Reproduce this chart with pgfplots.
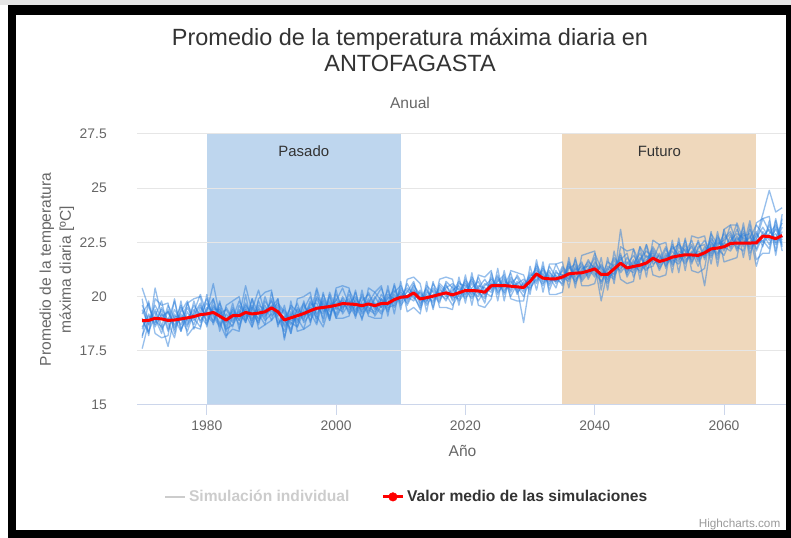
\documentclass[border=0pt]{standalone}
\usepackage{pgfplots}
\pgfplotsset{compat=1.18}
\usepackage{pgfplotstable}
\usepackage{fontspec}
\setmainfont{Liberation Sans}

\definecolor{pasado}{HTML}{BED6EE}
\definecolor{futuro}{HTML}{EFD8BC}
\definecolor{sim}{HTML}{2F80DA}
\definecolor{titulo}{HTML}{333333}
\definecolor{gris}{HTML}{666666}
\definecolor{rejilla}{HTML}{E6E6E6}
\definecolor{ejex}{HTML}{CCD6EB}
\definecolor{oculto}{HTML}{CCCCCC}
\definecolor{credito}{HTML}{999999}

% simulaciones individuales (12 modelos)
\pgfplotstableread{
year a b c d e f g h i j k l
1970 18.6 19.4 18.2 20.4 18.9 19.2 17.6 19.0 18.5 19.6 19.9 18.1
1971 19.1 18.7 18.9 19.5 18.4 19.7 18.8 18.3 19.2 18.9 18.2 19.8
1972 18.8 19.3 19.6 18.9 19.1 18.6 19.4 20.4 18.7 19.0 19.9 18.3
1973 19.4 18.5 19.0 18.6 19.8 19.2 18.7 19.1 19.5 18.3 19.6 18.1
1974 18.4 19.0 19.3 19.6 18.5 18.8 17.7 19.3 18.9 19.4 19.7 18.2
1975 19.2 18.9 18.5 19.0 19.4 18.1 19.1 18.7 19.8 18.6 18.3 19.9
1976 18.7 19.6 19.1 18.4 18.9 19.5 19.0 19.3 18.5 19.2 19.8 18.4
1977 19.5 18.8 18.6 19.3 19.7 18.9 18.4 19.8 19.0 18.7 18.2 19.7
1978 18.9 19.2 19.8 18.7 19.0 19.6 19.3 18.5 19.4 19.1 18.6 19.9
1979 19.3 19.7 18.8 19.5 18.6 19.1 20.1 19.2 18.9 19.6 18.5 20.0
1980 19.9 18.9 19.4 19.1 19.5 18.7 19.2 19.7 19.3 18.8 20.1 18.6
1981 19.1 19.5 19.9 18.8 19.3 19.6 18.9 19.2 20.6 19.4 18.7 19.9
1982 18.6 19.3 19.0 19.7 18.8 19.2 19.5 18.7 19.1 19.4 19.8 18.4
1983 19.2 18.4 18.9 19.0 18.1 19.4 18.6 19.5 18.8 18.5 18.2 19.6
1984 18.8 19.5 19.3 18.6 19.2 18.9 19.7 19.0 19.4 18.7 18.5 19.8
1985 19.4 18.9 18.7 19.6 19.1 19.3 18.5 19.8 18.9 19.2 18.4 20.0
1986 19.0 19.7 19.4 19.1 20.5 18.8 19.5 19.2 19.6 18.9 20.1 18.8
1987 19.6 19.0 18.8 19.5 19.3 19.9 18.9 18.6 19.2 19.4 18.6 19.9
1988 18.9 19.4 19.8 18.7 19.0 19.2 19.6 19.5 18.8 20.3 19.9 18.5
1989 19.3 18.9 19.1 19.8 19.6 18.7 19.4 19.0 20.0 19.2 20.2 18.7
1990 19.8 19.2 19.6 19.3 18.9 20.2 19.5 19.9 19.1 19.4 20.3 18.9
1991 19.0 19.6 18.8 19.5 19.3 19.1 19.9 18.7 19.4 19.7 18.6 19.9
1992 18.4 19.2 19.0 18.6 18.9 19.4 18.1 19.1 18.7 19.3 19.6 18.0
1993 19.3 18.7 19.5 19.1 18.5 18.9 19.2 18.3 19.6 18.8 18.3 19.8
1994 18.9 19.4 18.6 19.7 19.2 19.0 18.8 19.5 19.3 18.6 19.9 18.4
1995 19.6 19.0 19.3 18.8 19.7 18.5 19.4 19.1 18.9 19.8 20.0 18.5
1996 19.1 19.8 19.5 19.2 18.9 19.6 20.0 19.3 19.7 18.8 20.2 18.7
1997 19.9 19.2 19.0 20.4 19.4 19.7 19.1 18.7 19.5 20.0 18.8 20.3
1998 19.3 19.7 20.1 19.4 19.8 19.0 18.6 19.9 19.2 19.6 20.2 18.8
1999 19.7 19.1 19.4 19.8 19.0 20.2 19.6 19.3 20.0 18.9 18.9 20.1
2000 19.2 19.9 19.7 19.0 20.3 19.4 19.8 19.5 19.1 20.1 20.4 19.0
2001 20.0 19.4 19.8 19.6 19.2 19.9 20.4 19.3 19.7 19.5 20.5 19.0
2002 19.5 20.1 19.3 19.9 19.7 19.2 19.6 20.3 19.4 19.8 20.4 19.1
2003 19.8 19.4 19.9 19.2 20.0 19.6 19.1 19.7 20.2 19.3 19.0 20.3
2004 19.3 19.7 19.5 20.1 19.4 19.0 19.8 19.6 19.2 20.0 20.3 18.9
2005 19.9 19.3 20.2 19.5 19.8 19.7 20.1 19.2 19.6 19.4 19.1 20.4
2006 19.4 20.0 19.6 19.3 19.1 20.2 19.5 19.9 19.7 19.2 19.0 20.2
2007 20.1 19.5 19.3 19.9 19.6 19.8 19.2 20.4 19.5 19.9 19.0 20.5
2008 19.6 19.9 20.0 19.4 20.3 19.3 19.7 19.5 20.1 19.6 20.5 19.1
2009 19.8 20.3 19.7 20.1 19.5 20.0 20.5 19.6 19.9 20.2 19.2 20.6
2010 20.2 19.7 20.4 19.8 20.1 19.9 19.6 20.3 20.0 20.5 20.7 19.4
2011 19.8 20.3 19.9 20.6 19.7 20.2 20.0 19.6 20.4 19.9 19.3 20.8
2012 20.4 19.9 20.6 20.0 20.3 20.7 19.8 20.2 20.1 20.5 19.5 20.9
2013 19.6 20.2 19.8 19.5 20.0 19.7 20.3 19.9 19.4 20.1 19.2 20.6
2014 20.3 19.8 20.1 20.5 19.7 20.0 19.6 20.4 20.2 19.8 20.7 19.3
2015 19.9 20.4 19.7 20.2 20.6 19.8 20.1 19.5 20.0 20.3 19.4 20.7
2016 20.4 20.0 20.5 19.8 20.1 20.3 19.7 20.6 20.2 19.9 20.8 19.5
2017 20.0 20.6 20.2 20.4 19.9 20.1 20.7 20.3 19.8 20.5 20.9 19.5
2018 20.3 19.8 20.0 20.6 20.2 19.6 20.4 19.9 20.5 20.1 20.8 19.4
2019 20.5 20.2 19.9 20.3 20.7 20.1 19.8 20.6 20.0 20.4 19.6 20.9
2020 20.1 20.7 20.4 19.9 20.3 20.8 20.2 20.5 20.6 20.0 21.0 19.7
2021 20.6 20.0 20.8 20.4 19.9 20.3 20.7 20.1 20.2 20.9 19.6 21.1
2022 20.2 20.5 20.1 20.7 20.4 19.8 20.3 20.9 20.0 20.4 21.0 19.6
2023 19.9 20.4 20.6 20.0 20.8 20.3 19.7 20.2 20.5 20.1 20.9 19.5
2024 20.7 20.2 20.4 20.9 20.3 20.6 21.1 20.0 20.8 20.4 21.2 19.9
2025 20.3 20.9 20.6 20.2 20.7 20.4 20.1 20.8 20.5 21.0 19.8 21.3
2026 20.8 20.4 20.2 20.6 21.0 20.5 20.7 20.3 20.9 20.1 21.2 19.8
2027 20.4 20.7 20.9 20.3 20.2 21.1 20.5 20.6 20.0 20.8 19.9 21.2
2028 20.6 20.3 20.5 21.0 20.7 20.1 20.4 20.9 20.6 20.2 19.8 21.1
2029 20.2 20.6 20.0 20.5 20.4 20.7 18.8 20.3 20.8 20.5 19.8 21.0
2030 20.9 20.4 20.8 20.6 21.1 20.3 20.7 21.0 20.5 20.9 21.4 20.1
2031 21.3 20.8 21.1 21.5 20.7 21.0 21.2 20.9 21.4 20.6 20.3 21.7
2032 20.6 21.1 20.8 20.9 21.3 20.5 21.0 21.2 20.7 21.4 21.6 20.2
2033 21.0 20.5 21.2 20.7 20.9 21.4 20.6 20.8 21.1 20.3 20.1 21.5
2034 20.7 21.2 20.6 21.0 20.4 20.9 21.5 20.7 20.8 21.1 20.1 21.5
2035 21.2 20.7 21.0 20.5 21.3 20.8 20.9 21.4 20.6 21.0 20.2 21.6
2036 20.8 21.4 21.1 21.3 20.9 21.6 20.7 21.0 21.5 20.8 21.8 20.4
2037 21.3 20.9 20.7 21.5 21.2 20.8 21.4 21.1 20.6 21.7 20.4 21.8
2038 21.0 21.5 21.3 20.8 21.6 21.1 20.9 21.4 21.2 20.7 21.9 20.5
2039 21.5 21.0 21.4 21.2 20.8 21.7 21.3 20.9 21.6 21.1 22.0 20.5
2040 21.1 21.6 21.0 21.8 21.4 21.2 20.9 21.5 21.3 22.0 22.1 20.6
2041 20.7 21.2 21.4 20.6 21.0 20.9 21.5 19.8 21.1 21.3 20.3 21.8
2042 21.3 20.8 20.7 21.4 21.1 21.6 20.9 21.2 20.6 21.0 21.8 20.3
2043 21.0 21.5 21.7 21.2 20.9 21.4 21.1 21.8 21.3 20.8 20.6 22.1
2044 21.8 21.3 21.1 22.0 21.6 21.2 21.9 21.4 21.7 23.1 22.3 20.8
2045 21.1 21.6 21.5 20.9 21.3 21.8 21.0 21.4 22.0 21.2 22.1 20.6
2046 21.6 21.2 21.9 21.5 21.1 21.4 22.2 21.3 20.9 21.7 22.2 20.7
2047 21.3 21.8 21.4 22.0 21.7 21.2 21.5 22.3 21.6 21.1 20.8 22.3
2048 21.9 21.4 21.7 21.3 22.1 21.6 21.2 21.8 22.4 21.5 22.4 20.9
2049 21.6 22.1 21.9 21.4 21.8 22.3 21.7 22.0 21.5 22.2 21.0 22.6
2050 21.9 21.4 21.3 22.0 21.5 21.8 22.4 21.2 21.7 21.6 20.9 22.4
2051 21.5 22.0 21.8 21.4 22.2 21.6 21.3 21.9 22.3 21.7 21.0 22.5
2052 22.1 21.6 22.3 21.9 21.5 21.8 22.4 21.7 21.4 22.2 22.6 21.1
2053 21.7 22.3 21.9 21.6 22.1 22.5 21.8 21.5 22.0 22.4 21.1 22.7
2054 22.2 21.8 21.5 22.4 21.9 21.7 22.6 22.0 21.6 22.1 22.7 21.2
2055 21.8 22.4 22.0 21.6 22.3 21.9 21.5 22.6 22.1 21.7 21.2 22.8
2056 22.1 21.7 22.5 22.2 21.6 22.0 22.3 21.8 21.4 22.6 21.1 22.7
2057 21.9 22.3 21.7 22.6 22.1 20.5 22.4 22.0 22.2 21.8 21.3 22.8
2058 22.4 22.0 22.7 21.9 22.3 22.5 21.8 22.6 22.1 22.9 23.0 21.5
2059 22.0 22.6 22.3 22.8 21.9 22.2 22.5 21.7 22.7 22.4 21.4 23.0
2060 22.5 22.1 22.9 22.3 22.7 21.9 22.4 23.1 22.2 22.6 23.1 21.6
2061 22.3 22.8 22.4 22.1 23.0 22.6 23.3 22.2 22.5 22.9 23.3 21.7
2062 22.7 22.2 23.1 22.6 22.3 22.9 22.4 22.8 23.4 22.1 23.3 21.8
2063 22.4 23.0 22.5 22.9 22.1 22.7 23.2 22.3 22.6 22.8 21.8 23.4
2064 22.8 22.3 22.7 22.2 23.1 22.5 22.0 23.5 22.4 22.9 23.3 21.7
2065 22.2 22.9 23.3 22.6 22.4 23.0 22.7 22.1 22.8 21.4 21.7 23.4
2066 23.0 22.5 22.9 23.6 22.6 22.3 23.2 22.8 23.8 22.4 22.0 23.6
2067 22.6 23.3 22.4 23.0 22.2 23.5 22.7 23.1 24.9 22.9 22.0 23.7
2068 23.1 22.4 23.2 22.7 23.6 22.1 22.9 22.5 23.9 23.3 23.5 21.9
2069 22.5 23.0 22.6 23.4 22.3 23.8 22.4 23.2 24.1 22.7 22.1 23.6
}\sims

% valor medio de las simulaciones
\pgfplotstableread{
year mean
1970 18.89
1971 18.90
1972 19.00
1973 18.97
1974 18.90
1975 18.92
1976 18.97
1977 19.02
1978 19.08
1979 19.17
1980 19.20
1981 19.27
1982 19.10
1983 18.92
1984 19.12
1985 19.12
1986 19.27
1987 19.20
1988 19.24
1989 19.30
1990 19.48
1991 19.30
1992 18.92
1993 19.02
1994 19.12
1995 19.22
1996 19.35
1997 19.46
1998 19.50
1999 19.54
2000 19.60
2001 19.68
2002 19.66
2003 19.64
2004 19.58
2005 19.66
2006 19.58
2007 19.68
2008 19.69
2009 19.86
2010 19.97
2011 20.00
2012 20.17
2013 19.89
2014 19.95
2015 20.02
2016 20.10
2017 20.17
2018 20.08
2019 20.18
2020 20.28
2021 20.28
2022 20.26
2023 20.20
2024 20.50
2025 20.51
2026 20.51
2027 20.48
2028 20.45
2029 20.42
2030 20.70
2031 21.05
2032 20.85
2033 20.82
2034 20.82
2035 20.90
2036 21.05
2037 21.08
2038 21.10
2039 21.18
2040 21.28
2041 21.02
2042 21.02
2043 21.28
2044 21.54
2045 21.32
2046 21.39
2047 21.45
2048 21.55
2049 21.77
2050 21.62
2051 21.70
2052 21.82
2053 21.88
2054 21.93
2055 21.92
2056 21.90
2057 22.02
2058 22.20
2059 22.24
2060 22.30
2061 22.45
2062 22.47
2063 22.47
2064 22.47
2065 22.48
2066 22.79
2067 22.77
2068 22.67
2069 22.82
}\media

\begin{document}
\begin{tikzpicture}[x=0.75pt,y=0.75pt]

\begin{axis}[
    at={(102.75pt,99.75pt)}, anchor=south west,
    width=488.25pt, height=203.25pt, scale only axis,
    set layers,
    xmin=1969.2, xmax=2069.9,
    ymin=15, ymax=27.5,
    xtick={1980,2000,2020,2040,2060},
    ytick={15,17.5,20,22.5,25,27.5},
    axis x line*=bottom, axis y line*=left,
    axis line style={-},
    x axis line style={draw=ejex, line width=0.75pt},
    y axis line style={draw=none},
    ymajorgrids=true,
    grid style={draw=rejilla, line width=0.75pt},
    tick align=outside,
    major tick length=7.5pt,
    xtick style={draw=ejex, line width=0.75pt},
    ytick style={draw=none},
    /pgf/number format/assume math mode=true,
    /pgf/number format/1000 sep={},
    tick label style={text=gris, font=\fontsize{10.4}{12}\selectfont},
    xticklabel style={anchor=center, yshift=-8pt},
    yticklabel style={anchor=east, inner sep=0pt, xshift=-15pt},
    xlabel={Año},
    xlabel style={at={(axis description cs:0.5,-0.170)}, anchor=center,
        text=gris, font=\fontsize{11.7}{14}\selectfont},
    ylabel={Promedio de la temperatura\\máxima diaria [ºC]},
    ylabel style={at={(axis description cs:-0.123,0.5)}, anchor=center,
        align=center, text=gris, font=\fontsize{11.7}{15}\selectfont},
    clip mode=individual,
    legend style={at={(0.415,-0.339)}, anchor=center, draw=none, fill=none,
        font=\bfseries\fontsize{11.7}{14}\selectfont,
        /tikz/every even column/.append style={column sep=22pt}},
    legend columns=2,
    legend cell align=left,
]

% periodos
\addplot[fill=pasado, draw=none, on layer=axis background, forget plot]
    coordinates {(1980,15) (1980,27.5) (2010,27.5) (2010,15)} -- cycle;
\addplot[fill=futuro, draw=none, on layer=axis background, forget plot]
    coordinates {(2035,15) (2035,27.5) (2065,27.5) (2065,15)} -- cycle;

\node[anchor=base, text=titulo, font=\fontsize{11.2}{13}\selectfont]
    at (axis cs:1995,26.48) {Pasado};
\node[anchor=base, text=titulo, font=\fontsize{11.2}{13}\selectfont]
    at (axis cs:2050,26.48) {Futuro};

\pgfplotsinvokeforeach{a,b,c,d,e,f,g,h,i,j,k,l}{
    \addplot[sim, opacity=0.5, line width=1pt, line join=round, forget plot]
        table[x=year, y=#1] {\sims};
}

\addplot[red, line width=2.25pt, line join=round, forget plot]
    table[x=year, y=mean] {\media};

\addlegendimage{legend image code/.code={
    \draw[oculto, line width=1.5pt] (0pt,0pt) -- (15pt,0pt);}}
\addlegendentry{\textcolor{oculto}{Simulación individual}}
\addlegendimage{legend image code/.code={
    \draw[red, line width=2.25pt] (0pt,0pt) -- (15pt,0pt);
    \fill[red] (7.5pt,0pt) circle (3.2pt);}}
\addlegendentry{\textcolor{titulo}{Valor medio de las simulaciones}}
\end{axis}

% titulos
\node[anchor=base, text=titulo, font=\fontsize{17.6}{21}\selectfont]
    at (410,492) {Promedio de la temperatura máxima diaria en};
\node[anchor=base, text=titulo, font=\fontsize{17.6}{21}\selectfont]
    at (410,466) {ANTOFAGASTA};
\node[anchor=base, text=gris, font=\fontsize{11.7}{14}\selectfont]
    at (410,429) {Anual};
\node[anchor=base east, text=credito, font=\fontsize{8.8}{10}\selectfont]
    at (785,10) {Highcharts.com};

% marco
\fill[black!10] (0,533) rectangle (791,538);
\fill[black] (8,0) rectangle (16,533);
\fill[black] (8,523) rectangle (791,533);
\fill[black] (786,0) rectangle (791,533);
\fill[black] (8,0) rectangle (791,8);
\end{tikzpicture}
\end{document}
